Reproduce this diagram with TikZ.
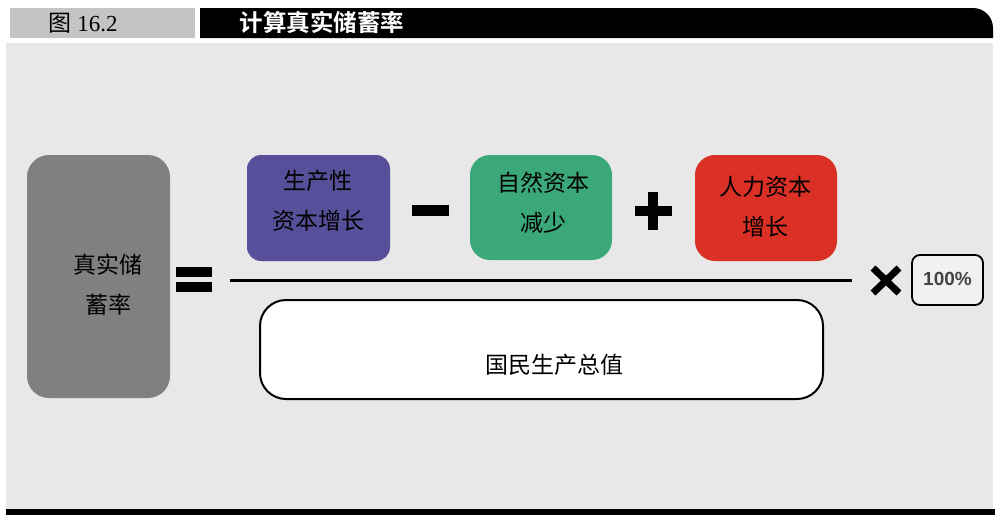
\documentclass[tikz,border=0pt]{standalone}
\usepackage{fontspec}
\setmainfont{Liberation Serif}
\newfontfamily\cjk{Noto Sans CJK SC}
\newfontfamily\cjkb{Noto Sans CJK SC Bold}
\newfontfamily\lsans{Liberation Sans}
\definecolor{panel}{HTML}{E8E8E8}
\definecolor{hdrgray}{HTML}{C4C4C4}
\definecolor{boxgray}{HTML}{808080}
\definecolor{boxpurple}{HTML}{574F9A}
\definecolor{boxgreen}{HTML}{3BA87A}
\definecolor{boxred}{HTML}{DA3026}
\definecolor{pcttext}{HTML}{444444}
\begin{document}
\begin{tikzpicture}[x=1pt,y=-1pt,
  lbl/.style={font=\cjk\fontsize{23}{40}\selectfont, align=center, text=black},
  cbox/.style={rounded corners=14pt, draw=none},
  opbar/.style={fill=black, draw=none}]
\useasboundingbox (0,0) rectangle (995,515);
\fill[white] (0,0) rectangle (995,515);
% panel
\fill[panel] (6,43) rectangle (993,509);
\fill[black] (6,509) rectangle (995,515);
% header
\fill[hdrgray] (10,8) rectangle (195,38);
\node[anchor=west, font=\fontsize{23}{24}\selectfont] (fig) at (45,23) {{\cjk 图} 16.2};
\fill[black] (200,8) -- (973,8) arc[start angle=-90,end angle=0,radius=20] -- (993,38) -- (200,38) -- cycle;
\node[anchor=west, text=white, font=\cjkb\fontsize{23.5}{24}\selectfont] (title) at (236,22) {计算真实储蓄率};
% left box
\fill[boxgray, cbox, rounded corners=22pt] (27,155) rectangle (170,398);
\node[lbl] (lhs) at (108,285) {真实储\\蓄率};
% equals
\fill[opbar] (176,267) rectangle (212,277);
\fill[opbar] (176,282) rectangle (212,292);
% numerator boxes
\fill[boxpurple, cbox] (247,155) rectangle (390,261);
\node[lbl] (kp) at (318,201) {生产性\\资本增长};
\fill[opbar] (412,205) rectangle (449,216);
\fill[boxgreen, cbox, rounded corners=20pt] (470,155) rectangle (612,260);
\node[lbl] (kn) at (543,203) {自然资本\\减少};
\fill[opbar] (635,206) rectangle (672,216);
\fill[opbar] (648,192) rectangle (658,230);
\fill[boxred, cbox, rounded corners=20pt] (695,155) rectangle (837,261);
\node[lbl] (kh) at (765,207) {人力资本\\增长};
% fraction line
\draw[line width=3pt] (230,280) -- (852,280);
% denominator
\draw[fill=white, line width=2pt, rounded corners=26pt] (260,300) rectangle (823,399);
\node[lbl] (gnp) at (554,365) {国民生产总值};
% times
\draw[line width=7pt] (873,268) -- (899,293) (873,293) -- (899,268);
\draw[fill=panel!60!white, line width=1.8pt, rounded corners=8pt] (912,255) rectangle (983,305);
\node[font=\lsans\bfseries\fontsize{19}{20}\selectfont, text=pcttext] (pct) at (947.5,279) {100\%};
\end{tikzpicture}
\end{document}
